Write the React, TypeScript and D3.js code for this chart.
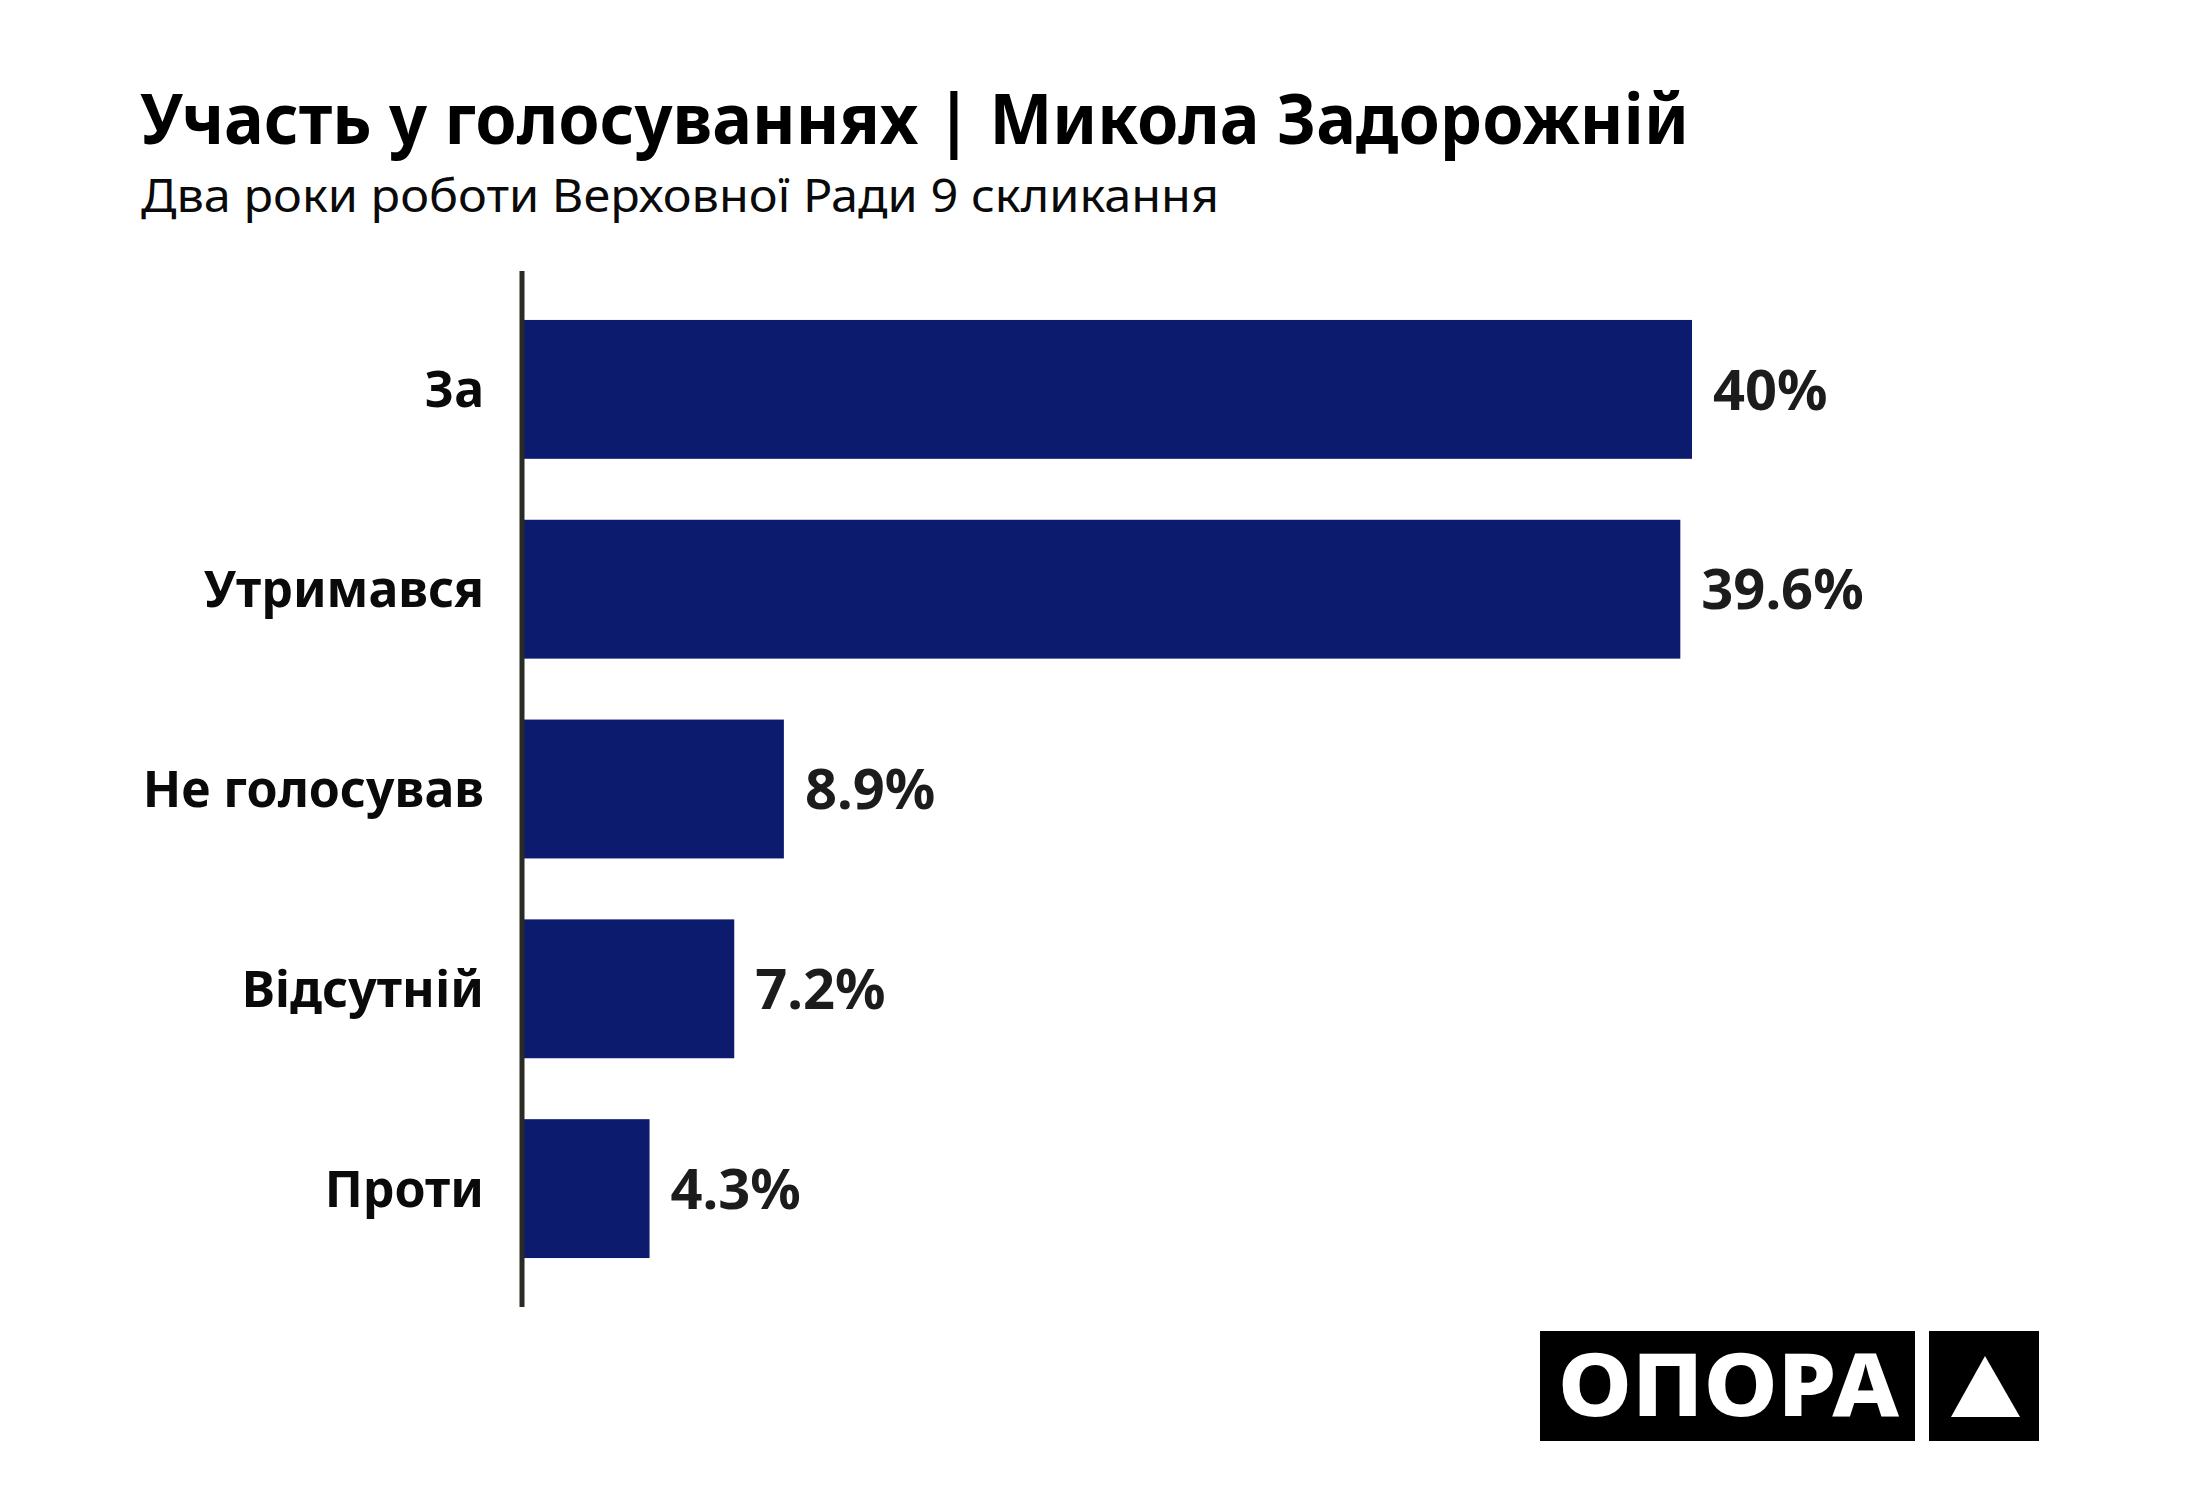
import { useEffect, useRef } from "react";
import * as d3 from "d3";

const title = "Участь у голосуваннях | Микола Задорожній";
const subtitle = "Два роки роботи Верховної Ради 9 скликання";
const categories = ["За", "Утримався", "Не голосував", "Відсутній", "Проти"];
const shares = [40, 39.6, 8.9, 7.2, 4.3];

const FONT = "'Noto Sans', 'Open Sans', sans-serif";

export default function App() {
  const svgRef = useRef<SVGSVGElement | null>(null);

  useEffect(() => {
    document.body.style.margin = "0";
    const width = 2200;
    const height = 1500;

    const svg = d3
      .select(svgRef.current)
      .attr("width", width)
      .attr("height", height)
      .style("background", "#ffffff");
    svg.selectAll("*").remove();

    const data = categories.map((c, i) => ({ label: c, value: shares[i] }));

    const x = d3.scaleLinear().domain([0, 40]).range([524, 1692]);
    const y = d3
      .scaleBand<string>()
      .domain(categories)
      .range([271, 1307])
      .paddingInner(0.305)
      .paddingOuter(0.245);

    // title block
    svg
      .append("text")
      .attr("x", 140)
      .attr("y", 144)
      .attr("font-family", FONT)
      .attr("font-weight", 700)
      .attr("font-size", 70)
      .attr("fill", "#000")
      .attr("textLength", 1549)
      .attr("lengthAdjust", "spacingAndGlyphs")
      .text(title);

    svg
      .append("text")
      .attr("x", 141)
      .attr("y", 212)
      .attr("font-family", FONT)
      .attr("font-weight", 400)
      .attr("font-size", 45)
      .attr("fill", "#0a0a0a")
      .attr("textLength", 1078)
      .attr("lengthAdjust", "spacingAndGlyphs")
      .text(subtitle);

    // bars
    svg
      .append("g")
      .selectAll("rect")
      .data(data)
      .enter()
      .append("rect")
      .attr("x", x(0))
      .attr("y", (d) => y(d.label)!)
      .attr("width", (d) => x(d.value) - x(0))
      .attr("height", y.bandwidth())
      .attr("fill", "#0d1b6e");

    // axis line
    svg
      .append("line")
      .attr("x1", x(0) - 2)
      .attr("x2", x(0) - 2)
      .attr("y1", y.range()[0])
      .attr("y2", y.range()[1])
      .attr("stroke", "#2a2b24")
      .attr("stroke-width", 5);

    // category labels
    svg
      .append("g")
      .selectAll("text")
      .data(data)
      .enter()
      .append("text")
      .attr("x", x(0) - 40)
      .attr("y", (d) => y(d.label)! + y.bandwidth() / 2)
      .attr("dy", "0.36em")
      .attr("text-anchor", "end")
      .attr("font-family", FONT)
      .attr("font-weight", 700)
      .attr("font-size", 50)
      .attr("fill", "#0a0a0a")
      .text((d) => d.label);

    // value labels
    svg
      .append("g")
      .selectAll("text")
      .data(data)
      .enter()
      .append("text")
      .attr("x", (d) => x(d.value) + 21)
      .attr("y", (d) => y(d.label)! + y.bandwidth() / 2)
      .attr("dy", "0.36em")
      .attr("font-family", FONT)
      .attr("font-weight", 700)
      .attr("font-size", 56)
      .attr("fill", "#1c1c1c")
      .text((d) => d.value + "%");

    // logo
    const logo = svg.append("g");
    logo
      .append("rect")
      .attr("x", 1540)
      .attr("y", 1331)
      .attr("width", 375)
      .attr("height", 110)
      .attr("fill", "#000");
    logo
      .append("rect")
      .attr("x", 1929)
      .attr("y", 1331)
      .attr("width", 110)
      .attr("height", 110)
      .attr("fill", "#000");
    logo
      .append("text")
      .attr("x", 1558)
      .attr("y", 1416)
      .attr("font-family", FONT)
      .attr("font-weight", 800)
      .attr("font-size", 88)
      .attr("fill", "#fff")
      .attr("textLength", 341)
      .attr("lengthAdjust", "spacingAndGlyphs")
      .text("ОПОРА");
    logo
      .append("path")
      .attr("d", d3.line()([[1985, 1356], [2020, 1417], [1951, 1417]]) + "Z")
      .attr("fill", "#fff");
  }, []);

  return <svg ref={svgRef}></svg>;
}
